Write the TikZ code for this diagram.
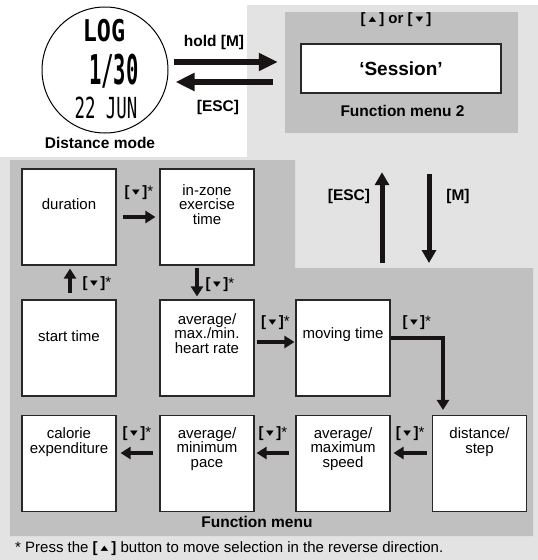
\documentclass[tikz,border=0pt]{standalone}
\usepackage{fontspec}
\setmainfont{Liberation Sans}
\newfontfamily\symf{DejaVu Sans}
\newfontfamily\lcdf{DejaVu Sans Mono}
\usetikzlibrary{arrows.meta}
\definecolor{lightbg}{RGB}{227,227,227}
\definecolor{midbg}{RGB}{192,192,192}
\definecolor{edgec}{RGB}{40,40,40}
\definecolor{arrc}{RGB}{25,20,20}
\newcommand{\tridn}{{\symf\fontsize{10}{10}\selectfont\raisebox{2.6pt}{\scalebox{1}[0.7]{▼}}}}
\newcommand{\triup}{{\symf\fontsize{10}{10}\selectfont\raisebox{2.6pt}{\scalebox{1}[0.7]{▲}}}}
\newcommand{\dnkey}{[\hspace{2.5pt}\tridn\hspace{2.5pt}]{\mdseries*}}
\begin{document}
\begin{tikzpicture}[x=1pt,y=-1pt,
  fbox/.style={draw=edgec, line width=1.1pt, fill=white, minimum width=94pt, minimum height=96pt, inner sep=0pt},
  btext/.style={font=\fontsize{15}{14.5}\selectfont, align=center, inner sep=0pt},
  lbl/.style={font=\bfseries\fontsize{15}{15}\selectfont, inner sep=0pt},
  blbl/.style={font=\bfseries\fontsize{15.5}{16}\selectfont, inner sep=0pt},
  sarrow/.style={line width=3.8pt, draw=arrc, -{Triangle[length=10pt,width=12pt]}},
  varrow/.style={line width=5pt, draw=arrc, -{Triangle[length=13pt,width=14pt]}},
  bigarrow/.style={line width=6pt, draw=arrc, -{Triangle[length=19pt,width=17pt]}},
  lcd/.style={font=\lcdf, inner sep=0pt}
]
\useasboundingbox (0,0) rectangle (538,560);
\fill[white] (0,0) rectangle (538,560);
% backgrounds
\fill[lightbg] (247,5) -- (538,5) -- (538,560) -- (0,560) -- (0,157) -- (247,157) -- cycle;
\fill[midbg] (10,160) -- (295,160) -- (295,268) -- (533,268) -- (533,536) -- (10,536) -- cycle;
\coordinate (fmtop) at (405,268);
% function menu 2
\node[fill=midbg, minimum width=233pt, minimum height=121pt, inner sep=0pt] (fm2) at (401.5,72.5) {};
\node[draw=edgec, line width=1.2pt, fill=white, minimum width=200pt, minimum height=49pt, inner sep=0pt] (sess) at (401,68.5) {};
\node[font=\bfseries\fontsize{19}{19}\selectfont, inner sep=0pt] (sesst) at (sess.center) {‘Session’};
\node[lbl] (fm2key) at (396,20) {[\hspace{3pt}\triup\hspace{3pt}] or [\hspace{3pt}\tridn\hspace{3pt}]};
\node[blbl] (fm2lbl) at (402.5,111) {Function menu 2};
% watch
\node[circle, draw=black, line width=1pt, fill=white, minimum size=126pt, inner sep=0pt] (dm) at (105,70) {};
\node[lcd] (lcd1) at (104,31) {\scalebox{0.78}[1]{\fontsize{30}{30}\selectfont\bfseries LOG}};
\node[lcd] (lcd2) at (114,71) {\scalebox{0.5}[1]{\fontsize{41}{41}\selectfont\bfseries 1/30}};
\node[lcd] (lcd3) at (106,108) {\scalebox{0.6}[1]{\fontsize{29}{29}\selectfont 22 JUN}};
\node[blbl] (dmlbl) at (100,143) {Distance mode};
% top arrows
\draw[bigarrow] ([shift={(5pt,8pt)}]dm.east) -- ([shift={(-7pt,10.5pt)}]fm2.west);
\draw[bigarrow] ([shift={(-12pt,-9.5pt)}]fm2.west) -- ([shift={(7pt,-12pt)}]dm.east);
\node[blbl] (holdm) at (214,42) {hold [M]};
\node[blbl] (esc1) at (218,107) {[ESC]};
% vertical arrows
\draw[varrow] ([xshift=-23pt,yshift=5pt]fmtop) -- ([xshift=-19.5pt,yshift=-39pt]fm2.south);
\draw[varrow] ([xshift=27.5pt,yshift=-41pt]fm2.south) -- ([xshift=24pt,yshift=5pt]fmtop);
\node[blbl] (esc2) at (349,196) {[ESC]};
\node[blbl] (mkey) at (458,196) {[M]};
% boxes
\node[fbox] (dur) at (69,217) {};
\node[fbox] (inz) at (207,217) {};
\node[fbox] (st) at (69,348) {};
\node[fbox] (hr) at (207,348) {};
\node[fbox] (mov) at (343,348) {};
\node[fbox] (cal) at (69,463.5) {};
\node[fbox] (pace) at (207,463.5) {};
\node[fbox] (spd) at (343,463.5) {};
\node[fbox] (dist) at (479.5,463.5) {};
% box texts
\node[btext] (tdur) at ([yshift=-36pt]dur.north) {duration};
\node[btext] (tinz) at ([yshift=-36pt]inz.north) {in-zone\\exercise\\time};
\node[btext] (tst) at ([yshift=-37pt]st.north) {start time};
\node[btext] (thr) at ([yshift=-34pt]hr.north) {average/\\max./min.\\heart rate};
\node[btext] (tmov) at ([yshift=-35pt]mov.north) {moving time};
\node[btext] (tcal) at ([yshift=-27pt]cal.north) {calorie\\expenditure};
\node[btext] (tpace) at ([yshift=-34pt]pace.north) {average/\\minimum\\pace};
\node[btext] (tspd) at ([yshift=-34pt]spd.north) {average/\\maximum\\speed};
\node[btext] (tdist) at ([yshift=-27pt]dist.north) {distance/\\step};
% flow arrows
\draw[sarrow] ([xshift=6pt]dur.east) -- ([xshift=-4pt]inz.west)
  node[lbl, midway, yshift=24pt] (k1) {\dnkey};
\draw[sarrow] ([xshift=-10pt,yshift=-2pt]inz.south) -- ([xshift=-10pt,yshift=3pt]hr.north)
  node[lbl, midway, xshift=23pt, yshift=-3pt] (k2) {\dnkey};
\draw[sarrow] ([xshift=1pt,yshift=6pt]st.north) -- ([xshift=1pt,yshift=-3pt]dur.south)
  node[lbl, midway, xshift=27pt, yshift=-3pt] (k3) {\dnkey};
\draw[sarrow] ([xshift=2pt,yshift=6pt]hr.east) -- ([xshift=-1pt,yshift=6pt]mov.west)
  node[lbl, midway, yshift=19pt] (k4) {\dnkey};
\draw[sarrow] ([yshift=10pt]mov.east) -| ([xshift=-36.5pt,yshift=5pt]dist.north)
  node[lbl, pos=0.25, yshift=15pt] (k5) {\dnkey};
\draw[sarrow] ([xshift=-5pt,yshift=10.5pt]dist.west) -- ([xshift=3pt,yshift=10.5pt]spd.east)
  node[lbl, midway, yshift=19pt] (k6) {\dnkey};
\draw[sarrow] ([xshift=-6pt,yshift=10.5pt]spd.west) -- ([xshift=2pt,yshift=10.5pt]pace.east)
  node[lbl, midway, yshift=19pt] (k7) {\dnkey};
\draw[sarrow] ([xshift=-6pt,yshift=10.5pt]pace.west) -- ([xshift=4pt,yshift=10.5pt]cal.east)
  node[lbl, midway, yshift=19pt] (k8) {\dnkey};
% labels
\node[blbl] (fmlbl) at (257,522) {Function menu};
\node[anchor=west, font=\fontsize{15}{15}\selectfont, inner sep=0pt] (fn) at (15,549)
  {* Press the \textbf{[}\hspace{3pt}\triup\hspace{3pt}\textbf{]} button to move selection in the reverse direction.};
\end{tikzpicture}
\end{document}
